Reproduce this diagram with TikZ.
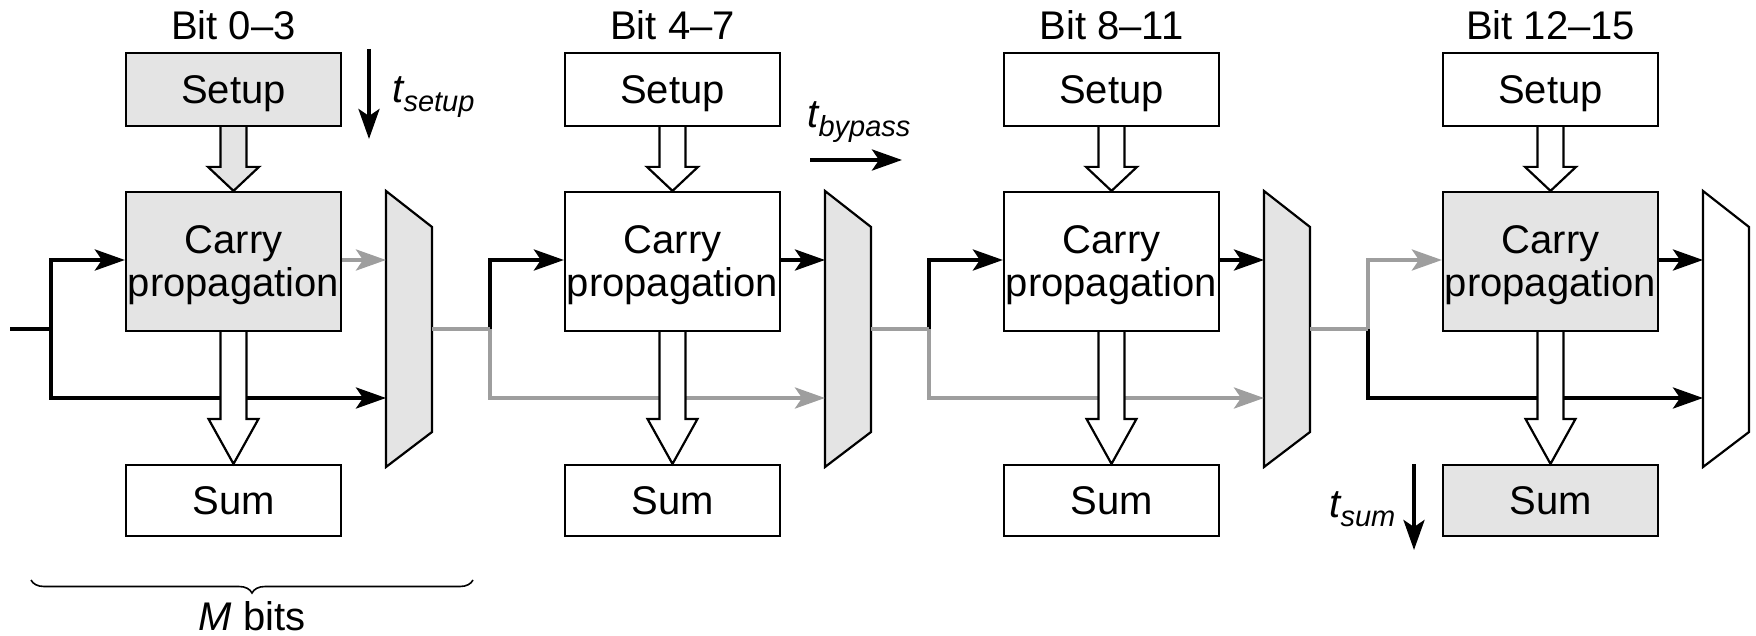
\documentclass[tikz,border=0pt]{standalone}
\usepackage{fontspec}
\setmainfont{Liberation Sans}
\usetikzlibrary{arrows.meta,calc,decorations.pathreplacing}
\definecolor{shade}{gray}{0.894}
\definecolor{lightwire}{gray}{0.62}

\tikzset{
  block/.style={draw, line width=1.1pt, minimum width=107.5pt, inner sep=0pt, align=center},
  oneline/.style={text height=14.3pt, text depth=0pt},
  wire/.style={line width=2pt, line join=miter},
  tipped/.style={-{Stealth[length=15pt,width=10.5pt,inset=3.5pt]}},
  fat/.style={draw, line width=1.1pt, line join=miter},
  delay/.style={line width=2pt, -{Stealth[length=15pt,width=10.5pt,inset=3.5pt]}},
  sublabel/.style={anchor=base west, inner sep=0pt},
}
\newcommand{\delaylabel}[1]{\itshape t\raisebox{-4.5pt}{\fontsize{14.5}{15}\selectfont #1}}

\begin{document}
\begin{tikzpicture}[x=0.5pt,y=-0.5pt,font=\fontsize{20}{21.5}\selectfont]
\useasboundingbox (0,0) rectangle (1756,636);

% four 4-bit stages: setup, carry propagation, sum and bypass multiplexer
\foreach \k/\bits/\setfill/\carfill/\sumfill/\arrfill/\upc/\downc/\outc/\muxfill in {
    0/0--3/shade/shade/white/shade/black/black/lightwire/shade,
    1/4--7/white/white/white/white/black/lightwire/black/shade,
    2/8--11/white/white/white/white/black/lightwire/black/shade,
    3/12--15/white/shade/shade/white/lightwire/black/black/white}{
  \pgfmathsetmacro\o{439*\k}
  \node[block, oneline, fill=\setfill, minimum height=36.5pt] (setup\k) at (233.5+\o,89.5) {Setup};
  \node[block, text depth=0.5pt, fill=\carfill, minimum height=69.5pt] (carry\k) at (233.5+\o,261.5) {Carry\\propagation};
  \node[block, oneline, fill=\sumfill, minimum height=35.5pt] (sum\k) at (233.5+\o,500.5) {Sum};
  \node[anchor=base, inner sep=0pt] (bits\k) at (233.5+\o,40) {Bit \bits};

  % multiplexer
  \draw[line width=1.1pt, line join=miter, fill=\muxfill]
    (386+\o,191) -- (432+\o,227) -- (432+\o,432) -- (386+\o,467) -- cycle;
  \coordinate (mux\k a) at (386+\o,260);
  \coordinate (mux\k b) at (386+\o,398);
  \coordinate (mux\k y) at (432+\o,329);
  \coordinate (split\k) at (51+\o,329);

  % carry-in fan-out and carry-out
  \draw[wire, tipped, \upc] (split\k) |- (mux\k a -| carry\k.west);
  \draw[wire, tipped, \downc] (split\k) |- (mux\k b);
  \draw[wire, tipped, \outc] (mux\k a -| carry\k.east) -- (mux\k a);

  % wide arrows setup -> carry -> sum
  \filldraw[fat, fill=\arrfill]
    ($(setup\k.south)+(-13,0)$) -- ($(carry\k.north)+(-13,-24)$) -- ($(carry\k.north)+(-25.5,-24)$)
    -- (carry\k.north) -- ($(carry\k.north)+(25.5,-24)$) -- ($(carry\k.north)+(13,-24)$)
    -- ($(setup\k.south)+(13,0)$);
  \filldraw[fat, fill=white]
    ($(carry\k.south)+(-13,0)$) -- ($(sum\k.north)+(-13,-45)$) -- ($(sum\k.north)+(-25,-45)$)
    -- (sum\k.north) -- ($(sum\k.north)+(25,-45)$) -- ($(sum\k.north)+(13,-45)$)
    -- ($(carry\k.south)+(13,0)$);
}

% carry chain between the stages
\coordinate (cin) at (10,329);
\draw[wire] (cin) -- (split0);
\foreach \k/\n in {0/1,1/2,2/3}
  \draw[wire, lightwire] (mux\k y) -- (split\n);

% delay annotations
\coordinate (tsA) at (369,49);
\coordinate (tsB) at (369,139);
\draw[delay] (tsA) -- (tsB);
\node[sublabel] (tsetup) at (392,103) {\delaylabel{setup}};

\coordinate (tbA) at (810,160);
\coordinate (tbB) at (902,160);
\draw[delay] (tbA) -- (tbB);
\node[sublabel] (tbypass) at (807,128) {\delaylabel{bypass}};

\coordinate (tuA) at (1414,464);
\coordinate (tuB) at (1414,550);
\draw[delay] (tuA) -- (tuB);
\node[sublabel] (tsum) at (1329,517) {\delaylabel{sum}};

% group width
\coordinate (brR) at (473,580);
\coordinate (brL) at (31,580);
\draw[line width=0.8pt, decorate, decoration={brace, amplitude=6.5pt}] (brR) -- (brL);
\node[anchor=base, inner sep=0pt] (mbits) at (252,630) {\textit{M} bits};
\end{tikzpicture}
\end{document}
